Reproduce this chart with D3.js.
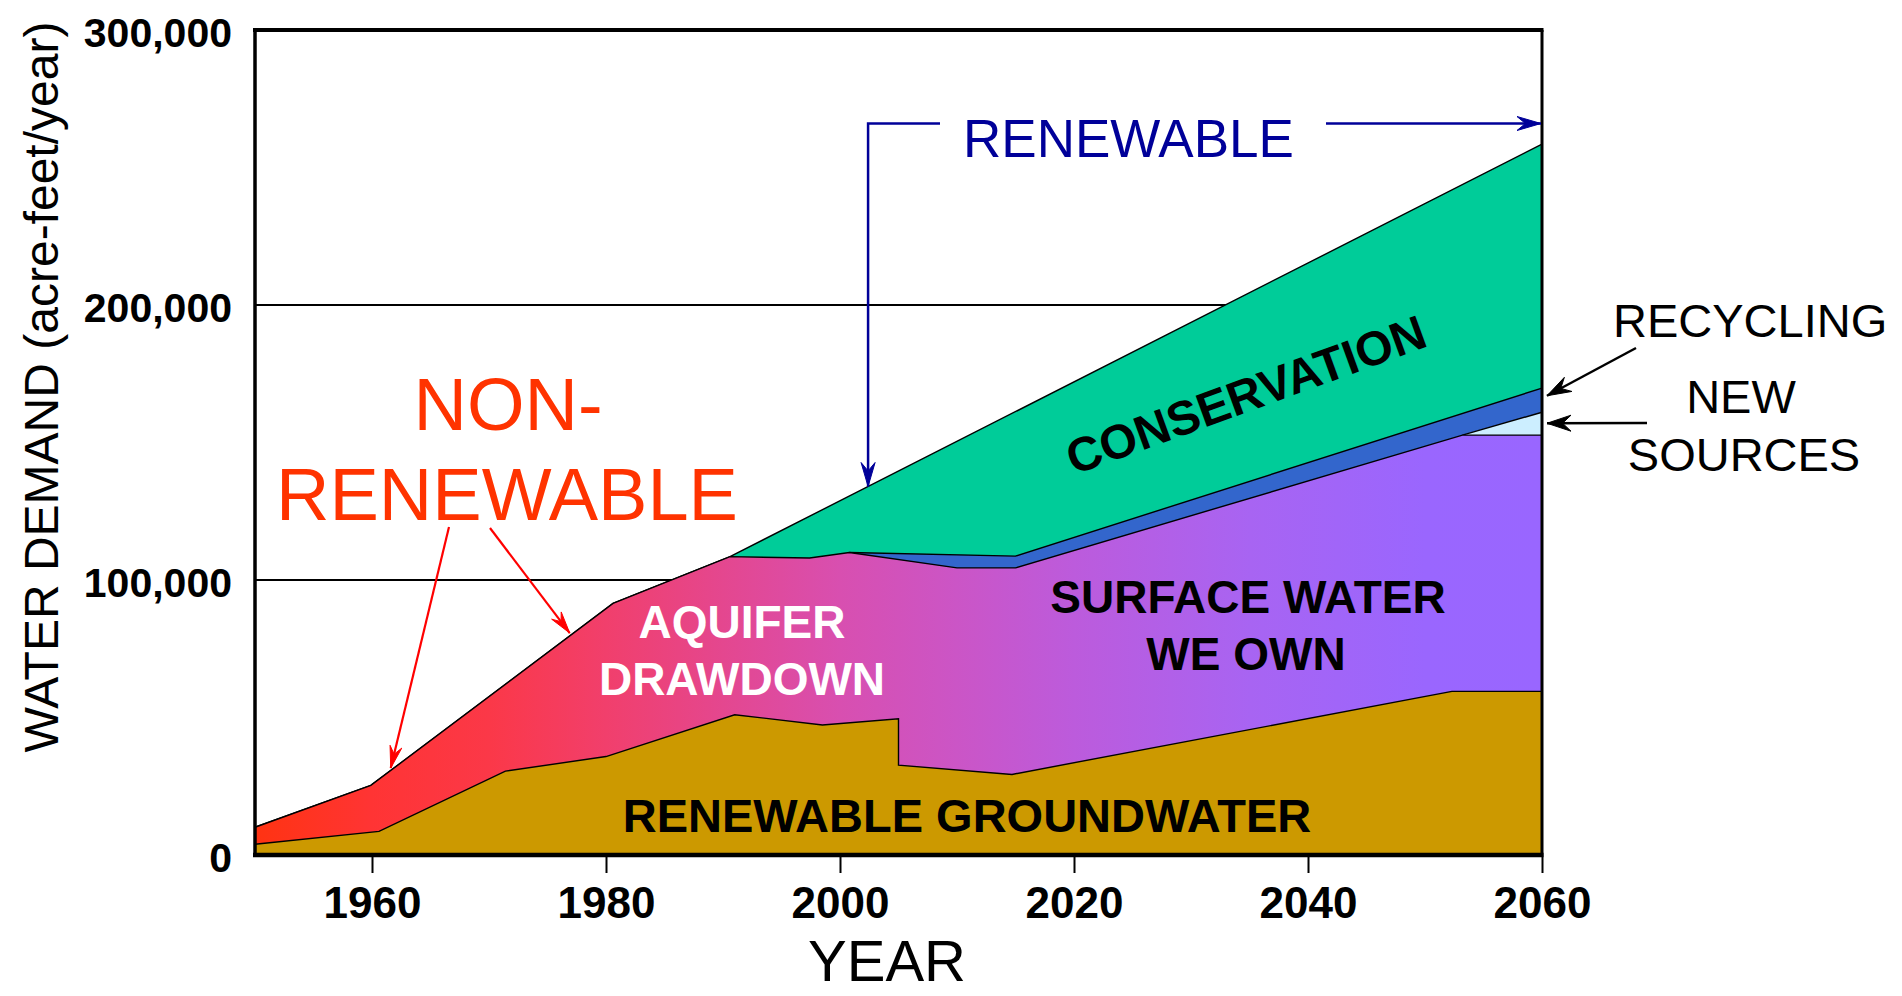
<!DOCTYPE html>
<html><head><meta charset="utf-8">
<script src="https://cdn.jsdelivr.net/npm/d3@7"></script>
<style>
body{margin:0;background:#fff;}
svg{display:block;font-family:"Liberation Sans",Arial,sans-serif;}
</style></head><body>
<svg id="chart" width="1902" height="996"></svg>
<script>
// ---- data (acre-feet/year) ----
const xTicks = [1960, 1980, 2000, 2020, 2040, 2060];
const yTicks = [0, 100000, 200000, 300000];
const renewableGroundwater = [[1950,3900],[1960.6,8600],[1971.4,30500],[1980,35800],[1991,51000],[1998.5,47300],[2005,49500],[2005,32700],[2014.7,29300],[2052.3,59500],[2060,59500]];
const surfaceWaterTop = [[1950,10100],[1959.9,25300],[1980.6,91500],[1990.6,108500],[1997.4,108000],[2000.8,110000],[2010,104400],[2015,104400],[2053.2,152700],[2060,152700]];
const newSourcesTop = [[2053.2,152700],[2060,161000]];
const recyclingTop = [[2000.8,110000],[2015,108700],[2060,169800]];
const totalDemand = [[1950,10100],[1959.9,25300],[1980.6,91500],[1990.6,108500],[2060,258500]];
const gradientStops = [[1950,"#FF3312"],[1960,"#FF3434"],[1970,"#FB3848"],[1980,"#F13F6C"],[1990,"#E4478F"],[2000,"#D84FB0"],[2010,"#CB55C6"],[2020,"#BC5BDC"],[2035,"#A864F2"],[2050,"#9A66FE"],[2060,"#9966FF"]];

const svg = d3.select("#chart");
const x = d3.scaleLinear().domain([1950, 2060]).range([255, 1542]);
const y = d3.scaleLinear().domain([0, 300000]).range([855, 30]);
const FONT = '"Liberation Sans", Arial, sans-serif';

// gradient
const defs = svg.append("defs");
const grad = defs.append("linearGradient").attr("id","mid").attr("gradientUnits","userSpaceOnUse")
  .attr("x1", x(1950)).attr("x2", x(2060)).attr("y1",0).attr("y2",0);
grad.selectAll("stop").data(gradientStops).enter().append("stop")
  .attr("offset", d => (x(d[0]) - x(1950)) / (x(2060) - x(1950)))
  .attr("stop-color", d => d[1]);

// gridlines
svg.append("g").selectAll("line").data([100000, 200000]).enter().append("line")
  .attr("x1", x(1950)).attr("x2", x(2060)).attr("y1", d => y(d)).attr("y2", d => y(d))
  .attr("stroke", "#000").attr("stroke-width", 1.8);

const area = d3.area().x(d => x(d[0])).y0(y(0)).y1(d => y(d[1]));
const line = d3.line().x(d => x(d[0])).y(d => y(d[1]));
const layers = [
  [totalDemand, "#00CC99"],
  [recyclingTop, "#3366CC"],
  [newSourcesTop, "#CCEEFF"],
  [surfaceWaterTop, "url(#mid)"],
  [renewableGroundwater, "#CC9900"]
];
const gA = svg.append("g");
layers.forEach(([data, fill]) => {
  gA.append("path").attr("d", area(data)).attr("fill", fill);
  gA.append("path").attr("d", line(data)).attr("fill", "none").attr("stroke", "#000").attr("stroke-width", 1.4);
});

// frame
const fr = svg.append("g").attr("stroke", "#000");
fr.append("line").attr("x1", x(1950)-2).attr("x2", x(2060)+1.5).attr("y1", y(300000)).attr("y2", y(300000)).attr("stroke-width", 4);
fr.append("line").attr("x1", x(1950)).attr("x2", x(1950)).attr("y1", y(300000)).attr("y2", y(0)).attr("stroke-width", 3.5);
fr.append("line").attr("x1", x(2060)).attr("x2", x(2060)).attr("y1", y(300000)).attr("y2", y(0)).attr("stroke-width", 3);
fr.append("line").attr("x1", x(1950)-2).attr("x2", x(2060)+1.5).attr("y1", y(0)).attr("y2", y(0)).attr("stroke-width", 4.5);

// axes
const gx = svg.append("g").attr("transform", `translate(0,${y(0)})`)
  .call(d3.axisBottom(x).tickValues(xTicks).tickFormat(d3.format("d")).tickSize(18).tickPadding(14));
gx.select(".domain").remove();
gx.attr("font-family", FONT);
gx.selectAll("line").attr("stroke", "#000").attr("stroke-width", 2);
gx.selectAll("text").attr("font-size", 44).attr("font-weight", "bold").attr("fill", "#000");

const gy = svg.append("g").attr("transform", `translate(${x(1950)},0)`)
  .call(d3.axisLeft(y).tickValues(yTicks).tickFormat(d3.format(",")).tickSize(0).tickPadding(23));
gy.select(".domain").remove();
gy.attr("font-family", FONT);
gy.selectAll("text").attr("font-size", 41).attr("font-weight", "bold").attr("fill", "#000").attr("dy", "0.4em");

// axis titles
svg.append("text").attr("x", 887).attr("y", 981).attr("text-anchor", "middle")
  .attr("font-size", 58).attr("fill", "#000").text("YEAR");
svg.append("text").attr("transform", "translate(58,387) rotate(-90)").attr("text-anchor", "middle")
  .attr("font-size", 48).attr("fill", "#000").text("WATER DEMAND (acre-feet/year)");

// arrows
function arrow(pts, color, w, len, half) {
  svg.append("path").attr("d", d3.line()(pts)).attr("fill", "none").attr("stroke", color).attr("stroke-width", w);
  const [x1, y1] = pts[pts.length - 2], [x2, y2] = pts[pts.length - 1];
  const a = Math.atan2(y2 - y1, x2 - x1);
  const ux = Math.cos(a), uy = Math.sin(a), px = -uy, py = ux;
  const head = [
    [x2, y2],
    [x2 - ux * len + px * half, y2 - uy * len + py * half],
    [x2 - ux * len * 0.65, y2 - uy * len * 0.65],
    [x2 - ux * len - px * half, y2 - uy * len - py * half]
  ];
  svg.append("path").attr("d", d3.line()(head) + "Z").attr("fill", color).attr("stroke", color).attr("stroke-width", 1);
}
const navy = "#000099";
arrow([[1326, y(266000)], [x(2060) - 1, y(266000)]], navy, 2.5, 24, 7);
arrow([[940, y(266000)], [x(2002.4), y(266000)], [x(2002.4), y(134000)]], navy, 2.5, 24, 7);
arrow([[449, 527], [x(1961.6), y(31600)]], "#FF0000", 2.2, 22, 6);
arrow([[490, 528], [x(1976.9), y(80700)]], "#FF0000", 2.2, 22, 6);
arrow([[1636, 348], [x(2060) + 5, y(167000)]], "#000", 2.5, 24, 8);
arrow([[1647, 423], [x(2060) + 5, y(157000)]], "#000", 2.5, 24, 8);

// annotations
function label(txt, xx, yy, size, opts = {}) {
  return svg.append("text").attr("x", xx).attr("y", yy).attr("font-size", size)
    .attr("text-anchor", opts.anchor || "middle").attr("font-weight", opts.bold ? "bold" : "normal")
    .attr("fill", opts.fill || "#000").text(txt);
}
label("RENEWABLE", 963, 157, 53, {anchor: "start", fill: navy});
label("NON-", 508, 430, 74, {fill: "#FF3300"});
label("RENEWABLE", 507, 520, 74, {fill: "#FF3300"});
label("RECYCLING", 1613, 337, 47, {anchor: "start"});
label("NEW", 1741, 413, 47);
label("SOURCES", 1744, 471, 47);
label("AQUIFER", 742, 638, 46, {bold: true, fill: "#fff"});
label("DRAWDOWN", 742, 695, 46, {bold: true, fill: "#fff"});
label("SURFACE WATER", 1248, 613, 46, {bold: true});
label("WE OWN", 1246, 670, 46, {bold: true});
label("RENEWABLE GROUNDWATER", 967, 832, 47, {bold: true});
svg.append("text").attr("transform", "translate(1246,395) rotate(-20)").attr("text-anchor", "middle")
  .attr("dominant-baseline", "central").attr("font-size", 48).attr("font-weight", "bold").attr("fill", "#000")
  .text("CONSERVATION");
</script>
</body></html>
